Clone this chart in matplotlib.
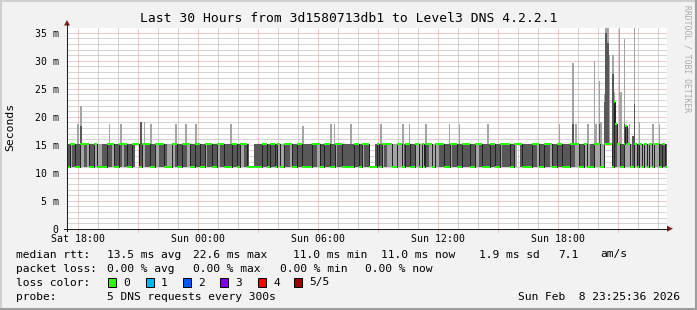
import numpy as np
import matplotlib
matplotlib.use("Agg")
import matplotlib.pyplot as plt
from matplotlib.patches import Rectangle, Polygon

W, H = 697, 310
MONO = "DejaVu Sans Mono"

# --- data (ms) -------------------------------------------------------------
LOW, HIGH = 11.0, 15.1
# one string per hour, one char per 5 minute step
# H/L: median high/low with dark smoke, h/l: light smoke only, F/f: no smoke
hour_codes = [
    "LLhHHLLLhhHH", "hLLLhhlllLLL", "HHHhLLLHHhHH", "LLLHHFFLLhhH",
    "HHLLLhhHHHLL", "lllhhHLLLHHH", "hhLLLHHHLLLh", "HHHLLLhhHHLL",
    "LLLHHHLLhhHH", "LfffLLLLLHHH", "LLHHHLhhllhH", "HHhLLLHHHLLL",
    "LLLHHHhhLLHH", "HHLLLhHHHLLL", "LLLLHHHLLhHH", "HLfffLHLLhHH",
    "hhhlllhhhlLH", "HHLLLhhllhLH", "HhhllhhHHHLL", "LLhHHHLLLHHH",
    "HHLLLhhHHLLL", "LLHHHLLLhHHH", "HHLLhhFFHLLL", "LLLHHHhLLLHH",
    "HHhLLLHHHLLL", "LLHHHhhLLLhh", "llLLhhhhllFF", "FFFLHHhhLLhh",
    "hhllhhLhhlhh", "lhhlhhhLLHHL",
]
# (step, top ping ms) light smoke spikes
spike_light = [
    (6, 18.7), (8, 22.0), (25, 18.7), (32, 18.7), (46, 19.0), (50, 18.7),
    (65, 18.7), (71, 18.7), (77, 18.7), (98, 18.7), (141, 18.3), (158, 18.7),
    (160, 18.7), (170, 18.7), (188, 18.7), (201, 18.7), (205, 18.7),
    (215, 18.7), (229, 18.7), (235, 18.7), (252, 18.7), (295, 18.7),
    (303, 29.6), (305, 18.7), (312, 18.7), (316, 30.0), (317, 18.7),
    (319, 26.3), (320, 19.0), (322, 24.0), (323, 36.0), (324, 36.0),
    (325, 31.0), (327, 31.0), (328, 24.5), (331, 36.0), (332, 24.5),
    (334, 33.9), (336, 17.9), (337, 18.7), (340, 36.0), (343, 19.0),
    (351, 18.7), (355, 18.7),
]
# (step, 4th ping ms) dark smoke spikes
spike_dark = [
    (8, 18.4), (44, 19.1), (303, 18.7), (319, 18.7), (322, 22.7),
    (323, 35.0), (324, 33.2), (327, 27.6), (334, 18.7), (339, 16.6),
    (340, 22.3),
]
# (step, median ms) where the median left the 11/15 levels
median_extra = [(328, 22.7), (329, 18.7), (335, 18.3)]

# x axis: hours since left edge, label positions
first_label = 0.5733
x_labels = ["Sat 18:00", "Sun 00:00", "Sun 06:00", "Sun 12:00", "Sun 18:00"]
y_ticks = [0, 5, 10, 15, 20, 25, 30, 35]

# --- build ping table ------------------------------------------------------
codes = "".join(hour_codes)
n = len(codes)
pings = np.zeros((n, 5))
for i, c in enumerate(codes):
    if c == "H":
        row = [LOW, LOW, HIGH, HIGH, HIGH]
    elif c == "L":
        row = [LOW, LOW, LOW, HIGH, HIGH]
    elif c == "h":
        row = [LOW, HIGH, HIGH, HIGH, HIGH]
    elif c == "l":
        row = [LOW, LOW, LOW, LOW, HIGH]
    elif c == "F":
        row = [HIGH] * 5
    else:
        row = [LOW] * 5
    pings[i] = row
for s, v in spike_light:
    pings[s, 4] = v
for s, v in spike_dark:
    pings[s, 3] = v
median = pings[:, 2].copy()
for s, v in median_extra:
    median[s] = v
    pings[s, 3] = max(pings[s, 3], v)

step = 1 / 12
t = np.arange(n) * step

# --- figure ----------------------------------------------------------------
fig = plt.figure(figsize=(W / 100, H / 100), dpi=100, facecolor="#f2f2f2")
left, right, bottom, top = 67, 667, 228.7, 28
ax = fig.add_axes([left / W, (H - bottom) / H, (right - left) / W, (bottom - top) / H])
ax.set_facecolor("white")
ymax = (bottom - top) / 5.6
ax.set_xlim(0, 30)
ax.set_ylim(0, ymax)
for sp in ax.spines.values():
    sp.set_visible(False)

minor_c, major_c = "#ababab", "#eb9595"
dot = dict(lw=0.72, linestyle=(0, (1, 1)))
for y in range(0, 36):
    if y % 5:
        ax.axhline(y, color=minor_c, zorder=0, **dot)
for y in y_ticks[1:]:
    ax.axhline(y, color=major_c, zorder=0.5, **dot)
for k in range(30):
    x = first_label + k
    if k % 3:
        ax.axvline(x, color=minor_c, zorder=0, **dot)
    else:
        ax.plot([x, x], [-0.5, ymax], color=major_c, zorder=0.5, clip_on=False, **dot)

# smoke
ax.bar(t, pings[:, 4] - pings[:, 0], bottom=pings[:, 0], width=step, align="edge",
       color="#a4a4a4", linewidth=0, zorder=2)
ax.bar(t, pings[:, 3] - pings[:, 1], bottom=pings[:, 1], width=step, align="edge",
       color="#585858", linewidth=0, zorder=3)
ax.step(np.append(t, t[-1] + step), np.append(median, median[-1]), where="post",
        color="#202020", lw=0.7, zorder=4)
ax.bar(t, 0.4, bottom=median - 0.2, width=step, align="edge",
       color="#26ff00", linewidth=0, zorder=5)

ax.set_xticks([first_label + 6 * k for k in range(len(x_labels))])
ax.set_xticklabels(x_labels, fontfamily=MONO, fontsize=7.1)
ax.set_yticks(y_ticks)
ax.set_yticklabels(["0" if v == 0 else f"{v} m" for v in y_ticks], fontfamily=MONO, fontsize=7.1)
ax.tick_params(length=0, pad=3.5)
ax.tick_params(axis="y", pad=6)

# overlay in pixel coordinates for frame, axes arrows and texts
ov = fig.add_axes([0, 0, 1, 1], zorder=10)
ov.set_xlim(0, W)
ov.set_ylim(H, 0)
ov.axis("off")
ov.patch.set_alpha(0)
ov.plot([0.5, W - 0.5], [0.5, 0.5], color="#cfcfcf", lw=1.5)
ov.plot([0.5, 0.5], [0.5, H - 0.5], color="#cfcfcf", lw=1.5)
ov.plot([0, W], [H - 1, H - 1], color="#9e9e9e", lw=1.5)
ov.plot([W - 1, W - 1], [0, H], color="#9e9e9e", lw=1.5)

ov.plot([left, left], [bottom + 2, 24], color="#1f1f1f", lw=0.75)
ov.plot([left - 3, 668], [bottom, bottom], color="#1f1f1f", lw=0.75)
ov.add_patch(Polygon([[left - 3, 25.5], [left + 3, 25.5], [left, 20]], closed=True,
                     color="#801f1f", lw=0))
ov.add_patch(Polygon([[667, bottom - 3], [667, bottom + 3], [673, bottom]], closed=True,
                     color="#801f1f", lw=0))

ov.text(348.5, 18, "Last 30 Hours from 3d1580713db1 to Level3 DNS 4.2.2.1",
        ha="center", va="center", fontfamily=MONO, fontsize=9.4)
ov.text(10, 127, "Seconds", rotation=90, ha="center", va="center",
        fontfamily=MONO, fontsize=8.2)
ov.text(687.5, 5, "RRDTOOL / TOBI OETIKER", rotation=270, ha="center", va="top",
        fontfamily=MONO, fontsize=5.8, color="#aaaaaa")

fs = 8.1
lines_y = [254.5, 268.5, 282.5, 296.5]
rows = [
    [(16, "median rtt:"), (107, "13.5 ms avg"), (193, "22.6 ms max"), (293, "11.0 ms min"),
     (381, "11.0 ms now"), (479, "1.9 ms sd"), (558, "7.1"), (600, "am/s")],
    [(16, "packet loss:"), (107, "0.00 % avg"), (193, "0.00 % max"), (280, "0.00 % min"),
     (365, "0.00 % now")],
    [(16, "loss color:")],
    [(16, "probe:"), (107, "5 DNS requests every 300s")],
]
for y, row in zip(lines_y, rows):
    for x, s in row:
        ov.text(x, y, s, ha="left", va="center", fontfamily=MONO, fontsize=fs)
ov.text(680, lines_y[3], "Sun Feb  8 23:25:36 2026", ha="right", va="center",
        fontfamily=MONO, fontsize=fs)

loss_labels = ["0", "1", "2", "3", "4", "5/5"]
loss_colors = ["#26ff00", "#00b8ff", "#0059ff", "#7e00ff", "#ff0000", "#a10000"]
loss_x = [108, 146, 183, 220, 258, 294]
for x, lab, c in zip(loss_x, loss_labels, loss_colors):
    ov.add_patch(Rectangle((x, lines_y[2] - 4.5), 8, 9, facecolor=c, edgecolor="black", lw=0.7))
    ov.text(x + 15, lines_y[2], lab, ha="left", va="center", fontfamily=MONO, fontsize=fs)

fig.savefig("out.png", dpi=100, facecolor=fig.get_facecolor())
